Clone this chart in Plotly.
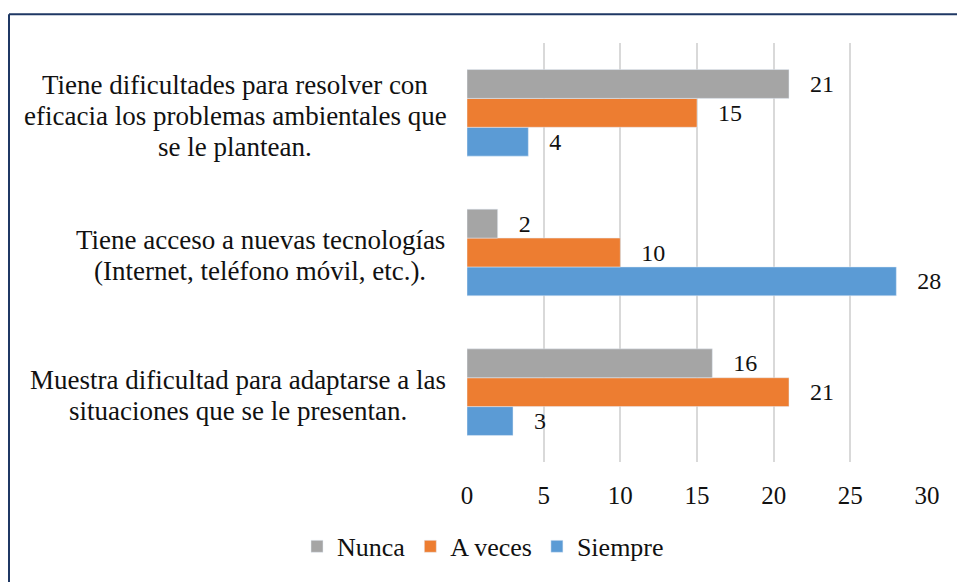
import plotly.graph_objects as go

# categorías de abajo hacia arriba (orden del eje categórico de plotly)
claves = ["c3", "c2", "c1"]
etiquetas = [
    ["Muestra dificultad para adaptarse a las", "situaciones que se le presentan."],
    ["Tiene acceso a nuevas tecnologías", "(Internet, teléfono móvil, etc.)."],
    ["Tiene dificultades para resolver con", "eficacia los problemas ambientales que", "se le plantean."],
]

nunca = [16, 2, 21]
a_veces = [21, 10, 15]
siempre = [3, 28, 4]

series = [
    ("Siempre", siempre, "#5B9BD5"),
    ("A veces", a_veces, "#ED7D31"),
    ("Nunca", nunca, "#A5A5A5"),
]

FONT = "Liberation Serif"
TXT = "#111111"

L, R, T, B = 467, 30, 43, 117
W, H = 957, 582
pw, ph = W - L - R, H - T - B

fig = go.Figure()
for nombre, valores, color in series:
    fig.add_trace(go.Bar(
        y=claves, x=valores,
        name=nombre,
        orientation="h",
        marker_color=color,
        text=valores,
        texttemplate="\u00a0\u00a0\u00a0%{x}",
        textposition="outside",
        textfont=dict(family=FONT, size=24, color=TXT),
        cliponaxis=False,
    ))

# etiquetas de categoría centradas, una anotación por línea (interlineado 31 px)
centros_x = [238, 260, 235]
anotaciones = []
for clave, lineas, cx in zip(claves, etiquetas, centros_x):
    n = len(lineas)
    for i, linea in enumerate(lineas):
        anotaciones.append(dict(
            x=(cx - L) / pw, xref="paper", xanchor="center",
            y=clave, yref="y", yanchor="middle",
            yshift=-((i - (n - 1) / 2) * 31) - 3,
            text=linea, showarrow=False,
            font=dict(family=FONT, size=27, color=TXT),
        ))

# marco azul del recuadro (solo bordes superior e izquierdo visibles)
bx = (9 - L) / pw
by = (H - B - 14) / ph
formas = [
    dict(type="line", xref="paper", yref="paper", x0=bx, x1=1.2, y0=by, y1=by,
         line=dict(color="#1F3864", width=2)),
    dict(type="line", xref="paper", yref="paper", x0=bx, x1=bx, y0=-0.4, y1=by,
         line=dict(color="#1F3864", width=2)),
]

fig.update_layout(
    width=W, height=H,
    margin=dict(l=L, r=R, t=T, b=B),
    paper_bgcolor="white",
    plot_bgcolor="white",
    font=dict(family=FONT, size=26, color=TXT),
    barmode="group",
    bargap=0.38,
    bargroupgap=0,
    showlegend=True,
    legend=dict(
        orientation="h", traceorder="reversed",
        x=(483 - L) / pw, xanchor="center",
        y=(H - B - 550) / ph, yanchor="middle",
        font=dict(family=FONT, size=26, color=TXT),
        itemwidth=30,
    ),
    xaxis=dict(
        range=[0, 30], dtick=5,
        showgrid=True, gridcolor="#D9D9D9", gridwidth=2,
        zeroline=False, showline=False, ticks="",
        tickfont=dict(family=FONT, size=25, color=TXT),
        ticklabelstandoff=16,
    ),
    yaxis=dict(
        categoryorder="array", categoryarray=claves,
        showticklabels=False, showgrid=False, zeroline=False, ticks="",
    ),
    annotations=anotaciones,
    shapes=formas,
)

fig.write_html(
    "out.html",
    config={"displayModeBar": False},
    post_script="document.body.style.margin='0';",
)
